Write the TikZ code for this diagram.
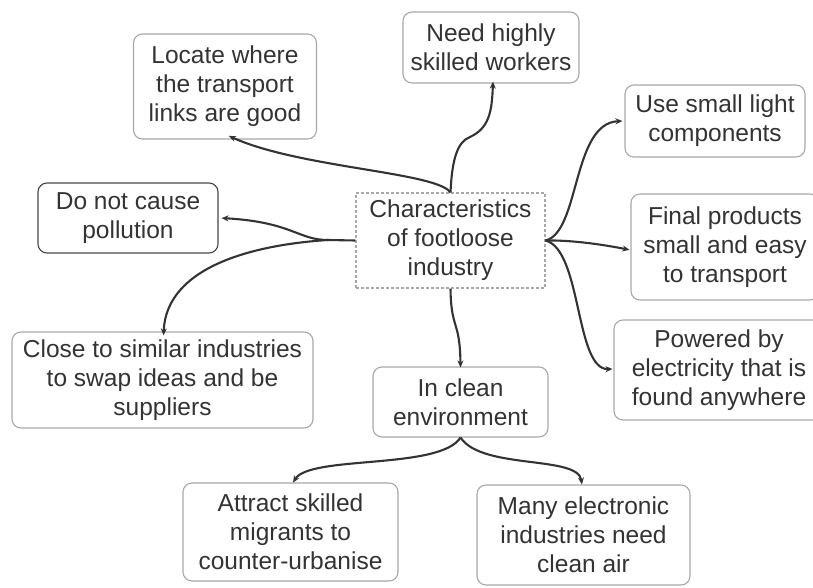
\documentclass[tikz,border=0pt]{standalone}
\usepackage{fontspec}
\setmainfont{Liberation Sans}
\usetikzlibrary{arrows.meta}
\definecolor{ink}{HTML}{333333}
\definecolor{edge}{HTML}{A8A8A8}
\tikzset{
  box/.style={draw=edge, line width=1.1pt, rounded corners=9pt, align=center,
    text=ink, inner sep=0pt, font=\fontsize{24.5}{29}\selectfont},
  darkbox/.style={box, draw=ink!90},
  centrebox/.style={box, rounded corners=0pt, densely dashed},
  link/.style={draw=ink, line width=2.1pt, -{Stealth[length=7pt,width=6pt]}, shorten >=1pt}
}
\begin{document}
\begin{tikzpicture}[x=1pt,y=-1pt]
\useasboundingbox[fill=white] (0,0) rectangle (813,588);
\begin{scope}
\clip (0,0) rectangle (813,588);
\node[centrebox, minimum width=189, minimum height=95] (cbox) at (450.5,240.5) {Characteristics\\of footloose\\industry};
\node[box, minimum width=183, minimum height=105] (locate) at (225,86.5) {Locate where\\the transport\\links are good};
\node[box, minimum width=176, minimum height=71] (need) at (491,47.5) {Need highly\\skilled workers};
\node[box, minimum width=180, minimum height=72] (use) at (715,121) {Use small light\\components};
\node[box, minimum width=188, minimum height=106] (final) at (725,247) {Final products\\small and easy\\to transport};
\node[box, minimum width=210, minimum height=100] (powered) at (719,370) {Powered by\\electricity that is\\found anywhere};
\node[darkbox, minimum width=180, minimum height=70] (donot) at (128,218) {Do not cause\\pollution};
\node[box, minimum width=301, minimum height=96] (close) at (162.5,380) {Close to similar industries\\to swap ideas and be\\suppliers};
\node[box, minimum width=175, minimum height=70] (inclean) at (460.5,402) {In clean\\environment};
\node[box, minimum width=215, minimum height=98] (attract) at (290.5,532) {Attract skilled\\migrants to\\counter-urbanise};
\node[box, minimum width=213, minimum height=100] (many) at (583.5,535) {Many electronic\\industries need\\clean air};

\coordinate (fork) at (328,240);

\draw[link] (cbox.north) .. controls (436,172) and (300,168) .. ([xshift=3pt,yshift=4pt]locate.south);
\draw[link] (cbox.north) .. controls (452,160) and (457,142) .. (470,137)
  .. controls (489,128) and (492,112) .. ([xshift=2pt,yshift=3pt]need.south);
\draw[link] (cbox.west) -- (fork) .. controls (298,240) and (292,222) .. ([xshift=2pt]donot.east);
\draw[link] (fork) .. controls (250,245) and (166,268) .. ([xshift=1pt,yshift=-5pt]close.north);
\draw[link] (cbox.east) .. controls (580,232) and (572,123) .. ([xshift=-1pt]use.west);
\draw[link] (cbox.east) .. controls (570,240) and (600,244) .. ([yshift=-3pt]final.west);
\draw[link] (cbox.east) .. controls (582,250) and (575,370) .. ([yshift=1pt]powered.west);
\draw[link] (cbox.south) .. controls (451,330) and (460,320) .. ([yshift=-2pt]inclean.north);
\draw[link] (inclean.south) .. controls (440,470) and (310,455) .. ([xshift=2pt,yshift=-1pt]attract.north);
\draw[link] (inclean.south) .. controls (482,470) and (578,455) .. ([xshift=-1.5pt,yshift=-1pt]many.north);
\end{scope}
\end{tikzpicture}
\end{document}
